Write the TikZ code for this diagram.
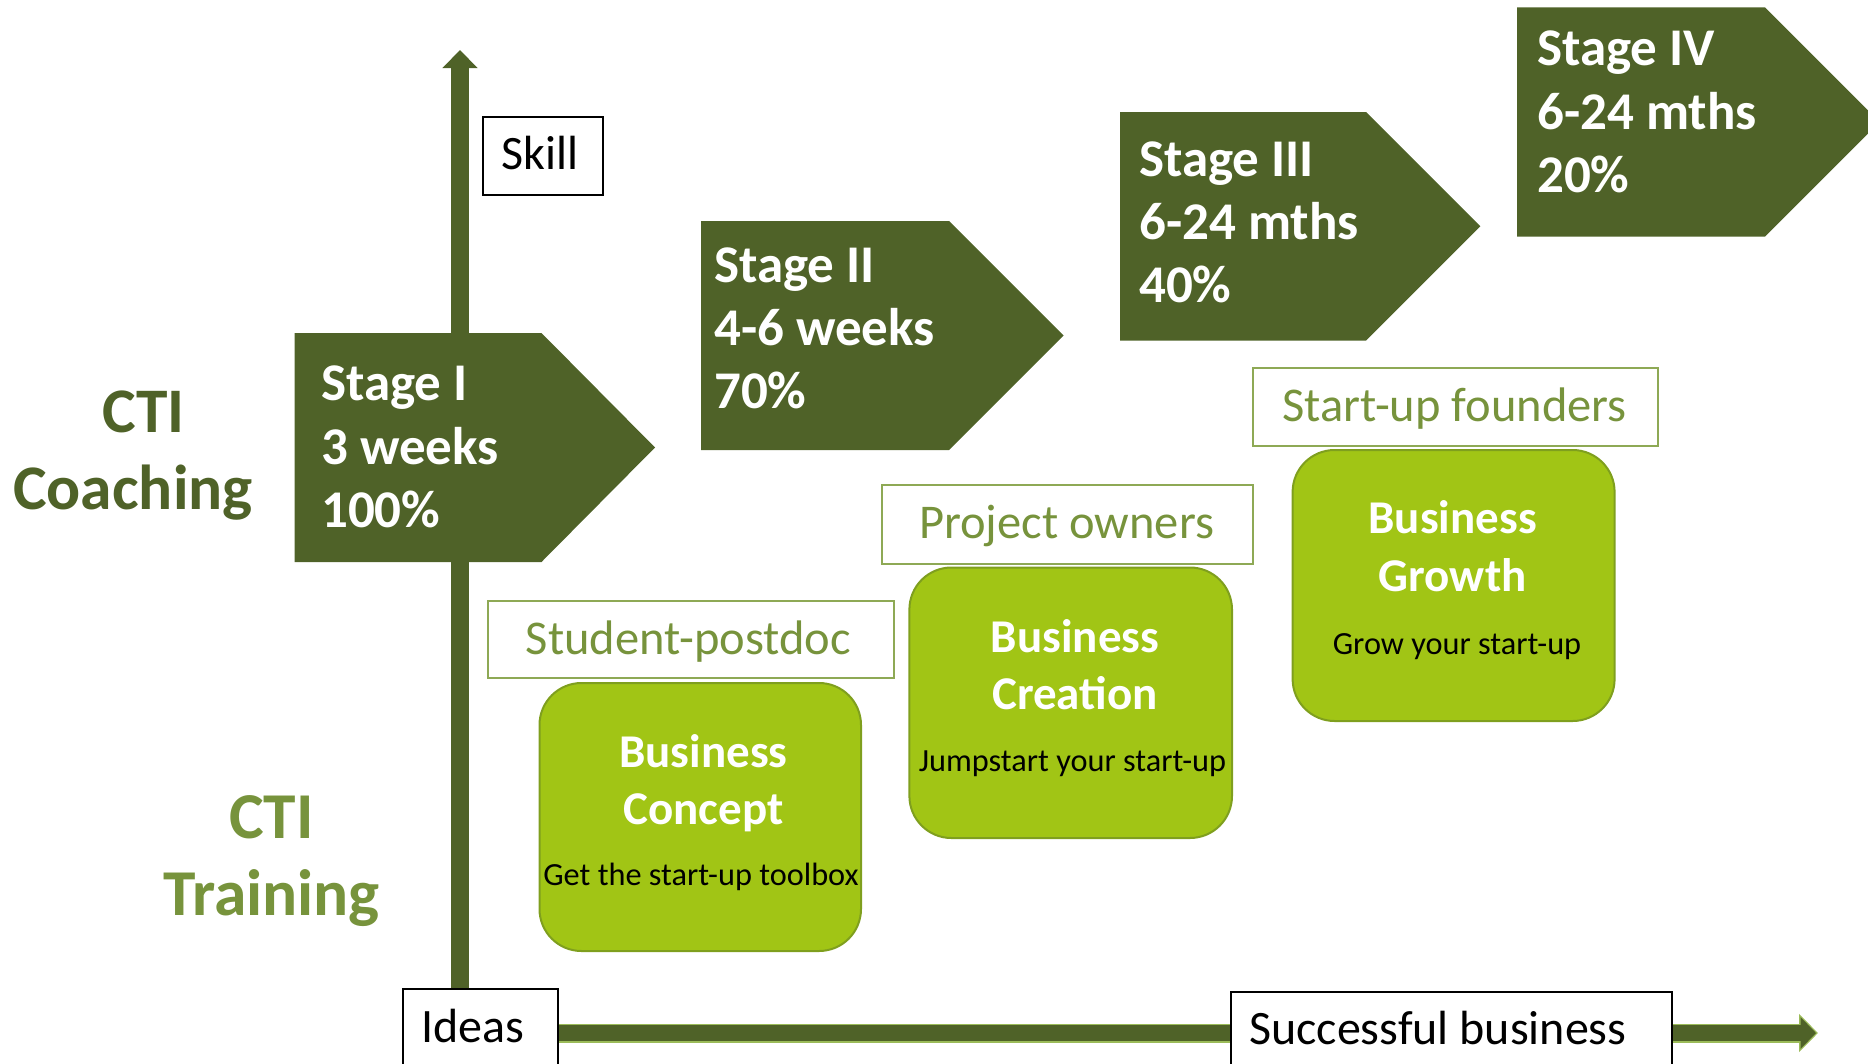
\documentclass[tikz,border=0pt]{standalone}
\usepackage{fontspec}
\setmainfont{Carlito}
\usetikzlibrary{arrows.meta,calc}
\definecolor{darkolive}{HTML}{4F6228}
\definecolor{olivetext}{HTML}{77933C}
\definecolor{limefill}{HTML}{A1C515}
\definecolor{limeborder}{HTML}{7F9F1E}
\definecolor{labelborder}{HTML}{8EA955}
\definecolor{arrowedge}{HTML}{9BBB59}
\tikzset{
  stagebox/.style={fill=darkolive},
  stagetxt/.style={anchor=base west, inner sep=0pt, text=white, font=\bfseries\fontsize{53}{63}\selectfont},
  sidetxt/.style={anchor=base, inner sep=0pt, font=\bfseries\fontsize{63.5}{75}\selectfont},
  blackbox/.style={draw=black, line width=2pt, fill=white, inner sep=0pt, anchor=north west},
  blacktxt/.style={anchor=base west, inner sep=0pt, text=black, font=\fontsize{48}{56}\selectfont},
  labelbox/.style={draw=labelborder, line width=2pt, fill=white, inner sep=0pt, anchor=north west},
  labeltxt/.style={anchor=base, inner sep=0pt, text=olivetext, font=\fontsize{48.5}{56}\selectfont},
  coursebox/.style={draw=limeborder, line width=2pt, fill=limefill, rounded corners=42pt, inner sep=0pt, anchor=north west},
  coursetitle/.style={anchor=base, inner sep=0pt, text=white, font=\bfseries\fontsize{47}{57}\selectfont},
  coursedesc/.style={anchor=base, inner sep=0pt, text=black, font=\fontsize{32.3}{38}\selectfont},
}
\begin{document}
\begin{tikzpicture}[x=1pt,y=-1pt]
\path[use as bounding box] (0,0) rectangle (1868,1063);
\clip (0,0) rectangle (1868,1063);

% bottom boxes (positions needed by arrows)
\path (402,987.5) node[blackbox, minimum width=155pt, minimum height=130pt] (ideas) {};
\path (1230,990.6) node[blackbox, minimum width=441pt, minimum height=130pt] (success) {};
\coordinate (vtip) at (460,50);
\coordinate (htip) at (1818,1033);

% horizontal arrow
\draw[line width=19pt, draw=arrowedge, -{Triangle[width=37pt,length=19pt]}] (ideas.east |- htip) -- (htip);
\draw[line width=15.5pt, draw=darkolive, shorten >=2pt, -{Triangle[width=31pt,length=15.5pt]}] (ideas.east |- htip) -- (htip);
% vertical arrow
\draw[line width=18pt, draw=darkolive, -{Triangle[width=34pt,length=18pt]}] (vtip |- ideas.north) -- (vtip);

% redraw bottom boxes on top
\path (402,987.5) node[blackbox, minimum width=155pt, minimum height=130pt] (ideasbox) {};
\path (1230,990.6) node[blackbox, minimum width=441pt, minimum height=130pt] (successbox) {};
\node[blacktxt] (ideastxt) at (421,1042.5) {Ideas};
\node[blacktxt] (successtxt) at (1249,1044) {Successful business};

% skill box
\path (482,115.6) node[blackbox, minimum width=120pt, minimum height=78.4pt] (skill) {};
\node[blacktxt] (skilltxt) at (501,169.5) {Skill};

% stages
\fill[stagebox] (294.6,333) -- (541.5,333) -- (655,447.5) -- (541.5,562) -- (294.6,562) -- cycle;
\fill[stagebox] (701,221) -- (949,221) -- (1063.5,335.5) -- (949,450) -- (701,450) -- cycle;
\fill[stagebox] (1120,112) -- (1366,112) -- (1480.3,226.3) -- (1366,340.6) -- (1120,340.6) -- cycle;
\fill[stagebox] (1517,7.3) -- (1765,7.3) -- (1879.7,122) -- (1765,236.7) -- (1517,236.7) -- cycle;

\node[stagetxt] (s1a) at (321,400) {Stage I};
\node[stagetxt] (s1b) at (321,464) {3 weeks};
\node[stagetxt] (s1c) at (321,527) {100\%};
\node[stagetxt] (s2a) at (714,282) {Stage II};
\node[stagetxt] (s2b) at (714,345) {4-6 weeks};
\node[stagetxt] (s2c) at (714,408.5) {70\%};
\node[stagetxt] (s3a) at (1139,176) {Stage III};
\node[stagetxt] (s3b) at (1139,239.5) {6-24 mths};
\node[stagetxt] (s3c) at (1139,302.5) {40\%};
\node[stagetxt] (s4a) at (1537,65.5) {Stage IV};
\node[stagetxt] (s4b) at (1537,129) {6-24 mths};
\node[stagetxt] (s4c) at (1537,192.5) {20\%};

% side labels
\node[sidetxt, text=darkolive] (coach1) at (143.5,432.5) {CTI};
\node[sidetxt, text=darkolive] (coach2) at (133,509.5) {Coaching};
\node[sidetxt, text=olivetext, font=\bfseries\fontsize{65.5}{75}\selectfont] (train1) at (271.5,838) {CTI};
\node[sidetxt, text=olivetext, font=\bfseries\fontsize{65.5}{75}\selectfont] (train2) at (271.5,915) {Training};

% audience labels
\path (487,600) node[labelbox, minimum width=406pt, minimum height=77pt] (student) {};
\node[labeltxt] (studenttxt) at (688.3,654.5) {Student-postdoc};
\path (881,484) node[labelbox, minimum width=371pt, minimum height=79pt] (owners) {};
\node[labeltxt] (ownerstxt) at (1066.5,538.5) {Project owners};
\path (1252,366.6) node[labelbox, minimum width=405pt, minimum height=78.4pt] (founders) {};
\node[labeltxt] (founderstxt) at (1454.5,421) {Start-up founders};

% course boxes
\path (538.5,682) node[coursebox, minimum width=321.5pt, minimum height=268pt] (concept) {};
\node[coursetitle] (concept1) at (703.5,767) {Business};
\node[coursetitle] (concept2) at (703.5,824) {Concept};
\node[coursedesc] (concept3) at (701,885) {Get the start-up toolbox};

\path (908.4,566.5) node[coursebox, minimum width=322.6pt, minimum height=270.5pt] (creation) {};
\node[coursetitle] (creation1) at (1075,652) {Business};
\node[coursetitle] (creation2) at (1075,709) {Creation};
\node[coursedesc] (creation3) at (1072.5,771.5) {Jumpstart your start-up};

\path (1291.6,449) node[coursebox, minimum width=322pt, minimum height=271pt] (growth) {};
\node[coursetitle] (growth1) at (1452.6,533) {Business};
\node[coursetitle] (growth2) at (1452.6,591.7) {Growth};
\node[coursedesc] (growth3) at (1457,654) {Grow your start-up};
\end{tikzpicture}
\end{document}
